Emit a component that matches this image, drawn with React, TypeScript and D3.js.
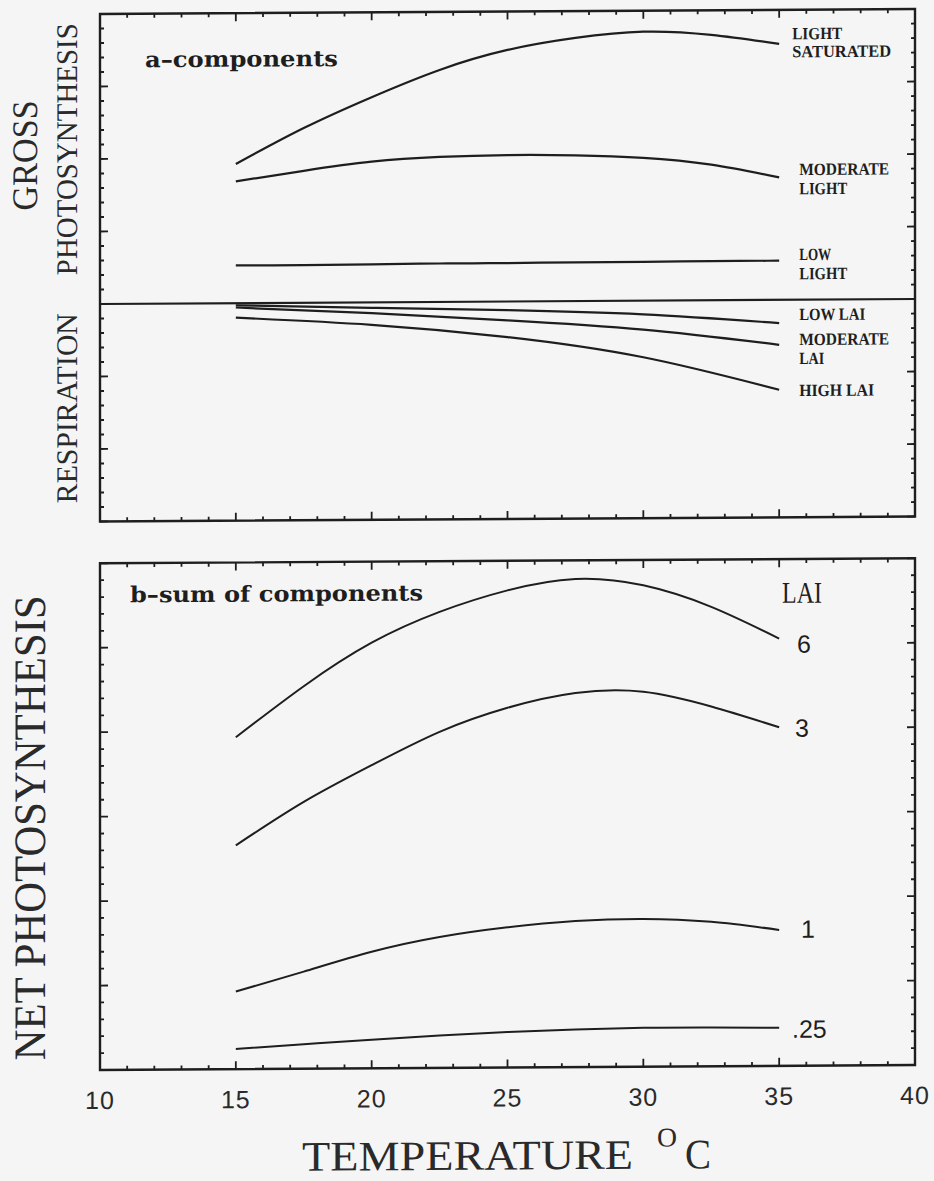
import * as d3 from "d3";

// temperature (°C) at which the curves were read
const temps = [15, 17.5, 20, 22.5, 25, 27.5, 30, 32.5, 35];
const respTemps = [15, 20, 25, 30, 35];

// a - components (arbitrary units, one unit = one major tick)
const lightSaturated = [1.92, 2.41, 2.83, 3.2, 3.47, 3.63, 3.71, 3.66, 3.53];
const moderateLight = [1.68, 1.82, 1.94, 2.0, 2.02, 2.01, 1.97, 1.87, 1.69];
const lowLight = [0.52, 0.52, 0.525, 0.53, 0.53, 0.535, 0.535, 0.54, 0.54];
const lowLai = [-0.03, -0.075, -0.12, -0.19, -0.32];
const moderateLai = [-0.06, -0.15, -0.26, -0.4, -0.62];
const highLai = [-0.2, -0.31, -0.49, -0.78, -1.24];

// b - sum of components
const net6 = [3.93, 4.53, 5.04, 5.4, 5.65, 5.78, 5.7, 5.44, 5.06];
const net3 = [2.65, 3.16, 3.59, 3.98, 4.26, 4.43, 4.44, 4.26, 4.01];
const net1 = [0.92, 1.15, 1.38, 1.55, 1.66, 1.73, 1.75, 1.71, 1.61];
const net025 = [0.24, 0.29, 0.34, 0.385, 0.42, 0.445, 0.46, 0.46, 0.45];

const xTickLabels = ["10", "15", "20", "25", "30", "35", "40"];
const laiLabels = ["6", "3", "1", ".25"];

const x = d3.scaleLinear().domain([10, 40]).range([100, 915]);
const yTop = d3.scaleLinear().domain([-3, 4]).range([521.5, 14]);
const yBot = d3.scaleLinear().domain([0, 6]).range([1070, 563.3]);

const ink = "#1e1e1e";

function Frame({ y }: { y: d3.ScaleLinear<number, number> }) {
  const [d0, d1] = y.domain();
  const [r0, r1] = y.range();
  const yt = d3.range(d0, d1 + 1e-9, 0.2);
  const xt = x.ticks(30);
  const isMajor = (v: number) => Math.abs(v - Math.round(v)) < 1e-6;
  return (
    <g stroke={ink} fill="none">
      <rect x={100} y={r1} width={815} height={r0 - r1} strokeWidth={2.4} />
      {yt.map((v, i) => {
        const len = isMajor(v) ? 8 : 4;
        return (
          <g key={"y" + i} strokeWidth={1.8}>
            <line x1={100} x2={100 + len} y1={y(v)} y2={y(v)} />
            <line x1={915} x2={915 - len} y1={y(v)} y2={y(v)} />
          </g>
        );
      })}
      {xt.map((v) => {
        const len = v % 5 === 0 ? 8 : 4;
        return (
          <g key={"x" + v} strokeWidth={1.8}>
            <line x1={x(v)} x2={x(v)} y1={r0} y2={r0 - len} />
            <line x1={x(v)} x2={x(v)} y1={r1} y2={r1 + len} />
          </g>
        );
      })}
    </g>
  );
}

export default function App() {
  const lineTop = d3
    .line<number>()
    .x((_, i) => x(temps[i]))
    .y((d) => yTop(d))
    .curve(d3.curveNatural);
  const lineResp = d3
    .line<number>()
    .x((_, i) => x(respTemps[i]))
    .y((d) => yTop(d))
    .curve(d3.curveNatural);
  const lineBot = d3
    .line<number>()
    .x((_, i) => x(temps[i]))
    .y((d) => yBot(d))
    .curve(d3.curveNatural);

  const smallBold = {
    fontFamily: "'Liberation Serif', serif",
    fontWeight: 700,
    fontSize: 17,
    fill: ink,
    lengthAdjust: "spacingAndGlyphs" as const,
  };
  const xl = x(35) + 20;

  return (
    <svg
      width={934}
      height={1181}
      style={{ position: "absolute", left: 0, top: 0 }}
    >
      <rect width={934} height={1181} fill="#f5f5f5" />
      <g transform="translate(100,0) skewY(-0.35) translate(-100,0)">
        {/* top panel */}
        <Frame y={yTop} />
        <line
          x1={100}
          x2={915}
          y1={yTop(0)}
          y2={yTop(0)}
          stroke={ink}
          strokeWidth={2.2}
        />
        <g fill="none" stroke={ink} strokeWidth={2.2}>
          <path d={lineTop(lightSaturated) ?? ""} />
          <path d={lineTop(moderateLight) ?? ""} />
          <path d={lineTop(lowLight) ?? ""} />
          <path d={lineResp(lowLai) ?? ""} />
          <path d={lineResp(moderateLai) ?? ""} />
          <path d={lineResp(highLai) ?? ""} />
        </g>
        <text
          x={145}
          y={67.5}
          fontFamily="'DejaVu Serif', serif"
          fontWeight={700}
          fontSize={22}
          fill={ink}
          textLength={193}
          lengthAdjust="spacingAndGlyphs"
        >
          a–components
        </text>
        <text x={xl - 7} y={43.5} {...smallBold} textLength={50}>LIGHT</text>
        <text x={xl - 7} y={61.5} {...smallBold} textLength={99}>SATURATED</text>
        <text x={xl} y={179.3} {...smallBold} textLength={90}>MODERATE</text>
        <text x={xl} y={198.5} {...smallBold} textLength={48}>LIGHT</text>
        <text x={xl} y={264.3} {...smallBold} textLength={32}>LOW</text>
        <text x={xl} y={283.5} {...smallBold} textLength={48}>LIGHT</text>
        <text x={xl} y={324.3} {...smallBold} textLength={66}>LOW LAI</text>
        <text x={xl} y={349.3} {...smallBold} textLength={90}>MODERATE</text>
        <text x={xl} y={368.3} {...smallBold} textLength={25}>LAI</text>
        <text x={xl} y={400.3} {...smallBold} textLength={75}>HIGH LAI</text>

        {/* bottom panel */}
        <Frame y={yBot} />
        <g fill="none" stroke={ink} strokeWidth={2}>
          <path d={lineBot(net6) ?? ""} />
          <path d={lineBot(net3) ?? ""} />
          <path d={lineBot(net1) ?? ""} />
          <path d={lineBot(net025) ?? ""} />
        </g>
        <text
          x={130}
          y={602.5}
          fontFamily="'DejaVu Serif', serif"
          fontWeight={700}
          fontSize={22}
          fill={ink}
          textLength={293}
          lengthAdjust="spacingAndGlyphs"
        >
          b–sum of components
        </text>
        <text
          x={782}
          y={607}
          fontFamily="'Liberation Serif', serif"
          fontSize={30}
          fill={ink}
          textLength={40}
          lengthAdjust="spacingAndGlyphs"
        >
          LAI
        </text>
        {laiLabels.map((t, i) => {
          const pos = [
            { x: 797, y: 657 },
            { x: 795, y: 741 },
            { x: 801, y: 942 },
            { x: 792, y: 1042 },
          ][i];
          return (
            <text
              key={t}
              x={pos.x}
              y={pos.y}
              fontFamily="'Liberation Sans', sans-serif"
              fontSize={25}
              fill={ink}
            >
              {t}
            </text>
          );
        })}

        {/* x tick labels */}
        {xTickLabels.map((t) => (
          <text
            key={t}
            x={x(+t)}
            y={1109}
            textAnchor="middle"
            fontFamily="'Liberation Sans', sans-serif"
            fontSize={25}
            fill="#2a2a2a"
            letterSpacing={1}
          >
            {t}
          </text>
        ))}

        {/* axis titles */}
        <text
          x={302}
          y={1172}
          fontFamily="'Liberation Serif', serif"
          fontSize={42}
          fill="#2a2a2a"
          textLength={331}
          lengthAdjust="spacingAndGlyphs"
        >
          TEMPERATURE
        </text>
        <text
          x={657}
          y={1150}
          fontFamily="'Liberation Serif', serif"
          fontSize={27}
          fill="#2a2a2a"
          textLength={20}
          lengthAdjust="spacingAndGlyphs"
        >
          O
        </text>
        <text
          x={685}
          y={1172}
          fontFamily="'Liberation Serif', serif"
          fontSize={42}
          fill="#2a2a2a"
          textLength={26}
          lengthAdjust="spacingAndGlyphs"
        >
          C
        </text>
        <text
          transform="translate(45,1060) rotate(-90)"
          fontFamily="'Liberation Serif', serif"
          fontSize={45}
          fill="#2a2a2a"
          textLength={465}
          lengthAdjust="spacingAndGlyphs"
        >
          NET PHOTOSYNTHESIS
        </text>
        <text
          transform="translate(37,210) rotate(-90)"
          fontFamily="'Liberation Serif', serif"
          fontSize={36}
          fill="#2a2a2a"
          textLength={110}
          lengthAdjust="spacingAndGlyphs"
        >
          GROSS
        </text>
        <text
          transform="translate(77,275) rotate(-90)"
          fontFamily="'Liberation Serif', serif"
          fontSize={30}
          fill="#2a2a2a"
          textLength={252}
          lengthAdjust="spacingAndGlyphs"
        >
          PHOTOSYNTHESIS
        </text>
        <text
          transform="translate(77,503) rotate(-90)"
          fontFamily="'Liberation Serif', serif"
          fontSize={30}
          fill="#2a2a2a"
          textLength={190}
          lengthAdjust="spacingAndGlyphs"
        >
          RESPIRATION
        </text>
      </g>
    </svg>
  );
}
